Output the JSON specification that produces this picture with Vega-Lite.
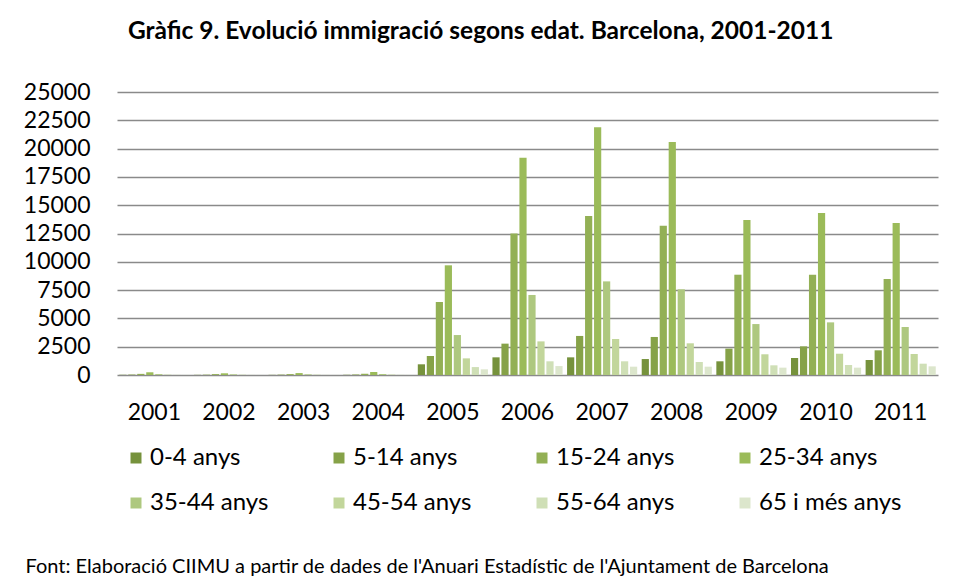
{
  "$schema": "https://vega.github.io/schema/vega-lite/v6.json",
  "width": 821,
  "height": 283,
  "autosize": {"type": "none"},
  "padding": {"left": 117, "top": 92, "right": 18, "bottom": 203},
  "background": "white",
  "title": {
    "text": "Gràfic 9. Evolució immigració segons edat. Barcelona, 2001-2011",
    "font": "Lato",
    "fontSize": 24.5,
    "fontWeight": "bold",
    "color": "#000000",
    "anchor": "middle",
    "frame": "bounds",
    "offset": 37
  },
  "config": {
    "view": {"stroke": null},
    "font": "Lato",
    "axis": {"labelFont": "Lato", "titleFont": "Lato", "labelColor": "#000000", "titleColor": "#000000"},
    "legend": {"labelFont": "Lato", "labelColor": "#000000"}
  },
  "data": {
    "values": [
      {"year": "2001", "age": "0-4 anys", "value": 20},
      {"year": "2001", "age": "5-14 anys", "value": 40},
      {"year": "2001", "age": "15-24 anys", "value": 100},
      {"year": "2001", "age": "25-34 anys", "value": 240},
      {"year": "2001", "age": "35-44 anys", "value": 80},
      {"year": "2001", "age": "45-54 anys", "value": 30},
      {"year": "2001", "age": "55-64 anys", "value": 15},
      {"year": "2001", "age": "65 i més anys", "value": 10},
      {"year": "2002", "age": "0-4 anys", "value": 15},
      {"year": "2002", "age": "5-14 anys", "value": 30},
      {"year": "2002", "age": "15-24 anys", "value": 80},
      {"year": "2002", "age": "25-34 anys", "value": 150},
      {"year": "2002", "age": "35-44 anys", "value": 60},
      {"year": "2002", "age": "45-54 anys", "value": 25},
      {"year": "2002", "age": "55-64 anys", "value": 10},
      {"year": "2002", "age": "65 i més anys", "value": 8},
      {"year": "2003", "age": "0-4 anys", "value": 15},
      {"year": "2003", "age": "5-14 anys", "value": 35},
      {"year": "2003", "age": "15-24 anys", "value": 80},
      {"year": "2003", "age": "25-34 anys", "value": 170},
      {"year": "2003", "age": "35-44 anys", "value": 60},
      {"year": "2003", "age": "45-54 anys", "value": 25},
      {"year": "2003", "age": "55-64 anys", "value": 10},
      {"year": "2003", "age": "65 i més anys", "value": 8},
      {"year": "2004", "age": "0-4 anys", "value": 20},
      {"year": "2004", "age": "5-14 anys", "value": 45},
      {"year": "2004", "age": "15-24 anys", "value": 110},
      {"year": "2004", "age": "25-34 anys", "value": 265},
      {"year": "2004", "age": "35-44 anys", "value": 90},
      {"year": "2004", "age": "45-54 anys", "value": 35},
      {"year": "2004", "age": "55-64 anys", "value": 15},
      {"year": "2004", "age": "65 i més anys", "value": 10},
      {"year": "2005", "age": "0-4 anys", "value": 945},
      {"year": "2005", "age": "5-14 anys", "value": 1680},
      {"year": "2005", "age": "15-24 anys", "value": 6450},
      {"year": "2005", "age": "25-34 anys", "value": 9690},
      {"year": "2005", "age": "35-44 anys", "value": 3530},
      {"year": "2005", "age": "45-54 anys", "value": 1470},
      {"year": "2005", "age": "55-64 anys", "value": 700},
      {"year": "2005", "age": "65 i més anys", "value": 500},
      {"year": "2006", "age": "0-4 anys", "value": 1560},
      {"year": "2006", "age": "5-14 anys", "value": 2770},
      {"year": "2006", "age": "15-24 anys", "value": 12510},
      {"year": "2006", "age": "25-34 anys", "value": 19200},
      {"year": "2006", "age": "35-44 anys", "value": 7070},
      {"year": "2006", "age": "45-54 anys", "value": 2970},
      {"year": "2006", "age": "55-64 anys", "value": 1210},
      {"year": "2006", "age": "65 i més anys", "value": 790},
      {"year": "2007", "age": "0-4 anys", "value": 1560},
      {"year": "2007", "age": "5-14 anys", "value": 3450},
      {"year": "2007", "age": "15-24 anys", "value": 14050},
      {"year": "2007", "age": "25-34 anys", "value": 21880},
      {"year": "2007", "age": "35-44 anys", "value": 8270},
      {"year": "2007", "age": "45-54 anys", "value": 3180},
      {"year": "2007", "age": "55-64 anys", "value": 1210},
      {"year": "2007", "age": "65 i més anys", "value": 735},
      {"year": "2008", "age": "0-4 anys", "value": 1410},
      {"year": "2008", "age": "5-14 anys", "value": 3360},
      {"year": "2008", "age": "15-24 anys", "value": 13190},
      {"year": "2008", "age": "25-34 anys", "value": 20580},
      {"year": "2008", "age": "35-44 anys", "value": 7570},
      {"year": "2008", "age": "45-54 anys", "value": 2800},
      {"year": "2008", "age": "55-64 anys", "value": 1150},
      {"year": "2008", "age": "65 i més anys", "value": 735},
      {"year": "2009", "age": "0-4 anys", "value": 1210},
      {"year": "2009", "age": "5-14 anys", "value": 2330},
      {"year": "2009", "age": "15-24 anys", "value": 8860},
      {"year": "2009", "age": "25-34 anys", "value": 13690},
      {"year": "2009", "age": "35-44 anys", "value": 4500},
      {"year": "2009", "age": "45-54 anys", "value": 1830},
      {"year": "2009", "age": "55-64 anys", "value": 855},
      {"year": "2009", "age": "65 i més anys", "value": 650},
      {"year": "2010", "age": "0-4 anys", "value": 1500},
      {"year": "2010", "age": "5-14 anys", "value": 2530},
      {"year": "2010", "age": "15-24 anys", "value": 8860},
      {"year": "2010", "age": "25-34 anys", "value": 14310},
      {"year": "2010", "age": "35-44 anys", "value": 4650},
      {"year": "2010", "age": "45-54 anys", "value": 1880},
      {"year": "2010", "age": "55-64 anys", "value": 885},
      {"year": "2010", "age": "65 i més anys", "value": 650},
      {"year": "2011", "age": "0-4 anys", "value": 1325},
      {"year": "2011", "age": "5-14 anys", "value": 2180},
      {"year": "2011", "age": "15-24 anys", "value": 8480},
      {"year": "2011", "age": "25-34 anys", "value": 13430},
      {"year": "2011", "age": "35-44 anys", "value": 4240},
      {"year": "2011", "age": "45-54 anys", "value": 1855},
      {"year": "2011", "age": "55-64 anys", "value": 1000},
      {"year": "2011", "age": "65 i més anys", "value": 765}
    ]
  },
  "mark": {"type": "bar"},
  "encoding": {
    "x": {
      "field": "year",
      "type": "nominal",
      "scale": {"paddingInner": 0, "paddingOuter": 0},
      "axis": {
        "labelAngle": 0,
        "labelFontSize": 23,
        "labelPadding": 26,
        "ticks": false,
        "domain": false,
        "title": "Font: Elaboració CIIMU a partir de dades de l'Anuari Estadístic de l'Ajuntament de Barcelona",
        "titleFontSize": 20,
        "titleFontWeight": "normal",
        "titleAnchor": "start",
        "titleAlign": "left",
        "titleBaseline": "alphabetic",
        "titleX": -92,
        "titleY": 197
      }
    },
    "xOffset": {
      "field": "age",
      "type": "nominal",
      "sort": ["0-4 anys", "5-14 anys", "15-24 anys", "25-34 anys", "35-44 anys", "45-54 anys", "55-64 anys", "65 i més anys"],
      "scale": {"paddingInner": 0.2, "paddingOuter": 0.25}
    },
    "y": {
      "field": "value",
      "type": "quantitative",
      "scale": {"domain": [0, 25000], "nice": false},
      "axis": {
        "values": [0, 2500, 5000, 7500, 10000, 12500, 15000, 17500, 20000, 22500, 25000],
        "format": "d",
        "labelFontSize": 23,
        "labelPadding": 27,
        "ticks": false,
        "domain": false,
        "grid": true,
        "gridColor": "#8a8a8a",
        "gridWidth": 1.5,
        "title": null
      }
    },
    "color": {
      "field": "age",
      "type": "nominal",
      "sort": ["0-4 anys", "5-14 anys", "15-24 anys", "25-34 anys", "35-44 anys", "45-54 anys", "55-64 anys", "65 i més anys"],
      "scale": {
        "domain": ["0-4 anys", "5-14 anys", "15-24 anys", "25-34 anys", "35-44 anys", "45-54 anys", "55-64 anys", "65 i més anys"],
        "range": ["#76923c", "#86a248", "#93b055", "#9bbb59", "#aec87f", "#c2d69b", "#cfdfb6", "#dce6cc"]
      },
      "legend": {
        "title": null,
        "orient": "none",
        "legendX": 7,
        "legendY": 354,
        "direction": "horizontal",
        "columns": 4,
        "gridAlign": "all",
        "symbolType": "square",
        "symbolSize": 121,
        "symbolStrokeWidth": 0,
        "labelFontSize": 24,
        "labelOffset": 2,
        "columnPadding": 34,
        "rowPadding": 21,
        "labelLimit": 300
      }
    }
  }
}
